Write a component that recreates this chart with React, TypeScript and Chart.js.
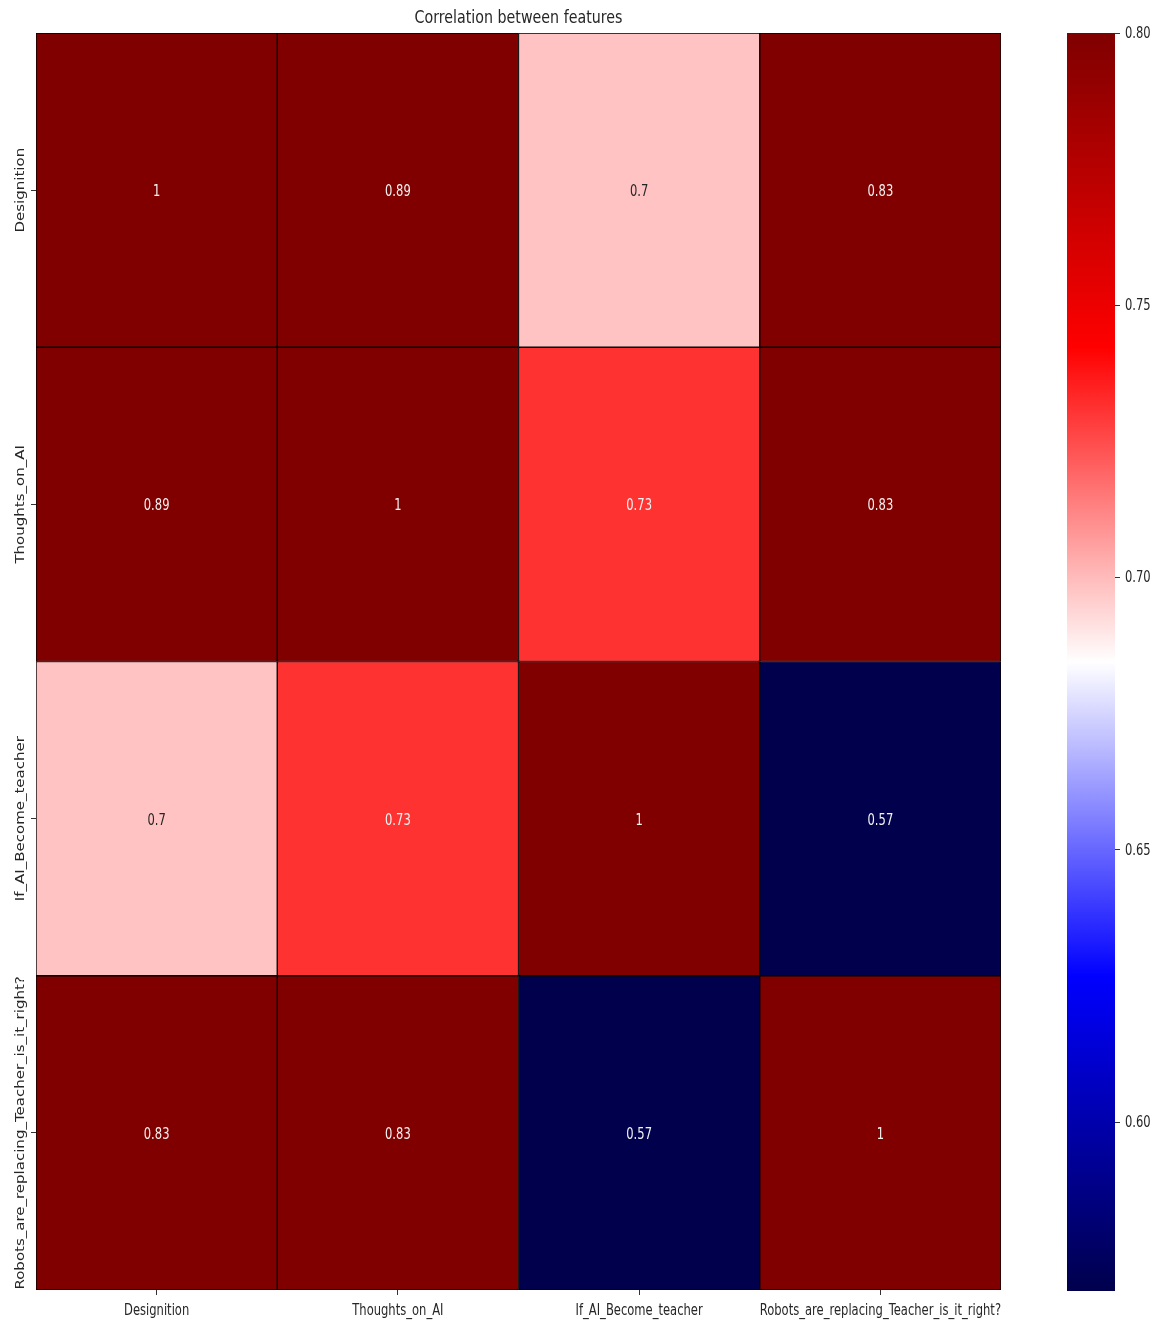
import React, { useEffect, useRef } from "react";
import { Chart, registerables } from "chart.js";

Chart.register(...registerables);

// ---------- data ----------
const featureLabels = [
  "Designition",
  "Thoughts_on_AI",
  "If_AI_Become_teacher",
  "Robots_are_replacing_Teacher_is_it_right?",
];
const designitionRow = [1, 0.89, 0.698, 0.83];
const thoughtsRow = [0.89, 1, 0.731, 0.83];
const ifAiRow = [0.698, 0.731, 1, 0.569];
const robotsRow = [0.83, 0.83, 0.569, 1];
const matrixRows = [designitionRow, thoughtsRow, ifAiRow, robotsRow];
const colorMax = 0.8;
const colorMin = Math.min(...matrixRows.flat());
const colorbarTicks = [0.6, 0.65, 0.7, 0.75, 0.8];
const titleText = "Correlation between features";

// ---------- helpers ----------
const seismicNodes = [
  [0, 0, 0.3],
  [0, 0, 1],
  [1, 1, 1],
  [1, 0, 0],
  [0.5, 0, 0],
];
function seismic(t: number): number[] {
  const c = Math.max(0, Math.min(1, t));
  const seg = Math.min(Math.floor(c * 4), 3);
  const f = c * 4 - seg;
  const a = seismicNodes[seg];
  const b = seismicNodes[seg + 1];
  return [0, 1, 2].map((k) => Math.round((a[k] + (b[k] - a[k]) * f) * 255));
}
function colorFor(v: number): string {
  const [r, g, b] = seismic((v - colorMin) / (colorMax - colorMin));
  return `rgb(${r},${g},${b})`;
}
function textColorFor(v: number): string {
  const rgb = seismic((v - colorMin) / (colorMax - colorMin)).map((c) => {
    const s = c / 255;
    return s <= 0.03928 ? s / 12.92 : Math.pow((s + 0.055) / 1.055, 2.4);
  });
  const lum = 0.2126 * rgb[0] + 0.7152 * rgb[1] + 0.0722 * rgb[2];
  return lum > 0.408 ? "#262626" : "#f2f2f2";
}
function fmt(v: number): string {
  return String(parseFloat(v.toPrecision(2)));
}
const SX = 0.77;
const FONT = '"DejaVu Sans", sans-serif';
function drawText(
  ctx: CanvasRenderingContext2D,
  text: string,
  x: number,
  y: number,
  size: number,
  color: string,
  align: CanvasTextAlign = "center",
  vertical = false
) {
  ctx.save();
  ctx.translate(x, y);
  if (vertical) {
    ctx.rotate(-Math.PI / 2);
    ctx.scale(1, SX);
  } else {
    ctx.scale(SX, 1);
  }
  ctx.font = `${size}px ${FONT}`;
  ctx.fillStyle = color;
  ctx.textAlign = align;
  ctx.textBaseline = "middle";
  ctx.fillText(text, 0, 0);
  ctx.restore();
}

const W = 1161;
const H = 1327;

export default function App() {
  const mainRef = useRef<HTMLCanvasElement>(null);
  const barRef = useRef<HTMLCanvasElement>(null);

  useEffect(() => {
    if (!mainRef.current || !barRef.current) return;

    const textPlugin = {
      id: "heatText",
      afterDraw(chart: any) {
        const ctx = chart.ctx as CanvasRenderingContext2D;
        const xs = chart.scales.x;
        const ys = chart.scales.y;
        const ca = chart.chartArea;
        matrixRows.forEach((row, r) => {
          row.forEach((v, c) => {
            drawText(
              ctx,
              fmt(v),
              xs.getPixelForValue(c),
              ys.getPixelForValue(r + 0.5) + 2,
              15,
              textColorFor(v)
            );
          });
        });
        featureLabels.forEach((lab, i) => {
          drawText(ctx, lab, xs.getPixelForValue(i), ca.bottom + 21, 15, "#262626");
          drawText(ctx, lab, ca.left - 15, ys.getPixelForValue(i + 0.5), 15, "#262626", "center", true);
        });
        drawText(ctx, titleText, (ca.left + ca.right) / 2, 18, 18.5, "#262626");
      },
    };

    const main = new Chart(mainRef.current, {
      type: "bar",
      data: {
        labels: featureLabels,
        datasets: matrixRows.map((row, r) => ({
          label: featureLabels[r],
          data: row.map(() => [r, r + 1]),
          backgroundColor: row.map(colorFor),
          borderColor: "#000000",
          borderWidth: 1,
          borderSkipped: false,
          barPercentage: 1,
          categoryPercentage: 1,
          grouped: false,
        })),
      } as any,
      options: {
        animation: false,
        responsive: false,
        devicePixelRatio: 1,
        layout: { padding: { top: 33, right: W - 1001, left: 0, bottom: 0 } },
        plugins: { legend: { display: false }, tooltip: { enabled: false }, title: { display: false } },
        scales: {
          x: {
            type: "category",
            offset: true,
            grid: { display: true, drawOnChartArea: false, offset: false, tickLength: 5, color: "#333333" },
            border: { display: false },
            ticks: { color: "rgba(0,0,0,0)", font: { size: 1 } },
            afterFit: (s: any) => {
              s.height = 37;
            },
          },
          y: {
            type: "linear",
            min: 0,
            max: 4,
            reverse: true,
            grid: { display: true, drawOnChartArea: false, tickLength: 5, color: "#333333" },
            border: { display: false },
            ticks: { color: "rgba(0,0,0,0)", font: { size: 1 } },
            afterBuildTicks: (s: any) => {
              s.ticks = featureLabels.map((_, i) => ({ value: i + 0.5 }));
            },
            afterFit: (s: any) => {
              s.width = 36;
            },
          },
        },
      } as any,
      plugins: [textPlugin],
    });

    const gradientPlugin = {
      id: "cbar",
      beforeDatasetsDraw(chart: any) {
        const ctx = chart.ctx as CanvasRenderingContext2D;
        const ys = chart.scales.y;
        const ca = chart.chartArea;
        const y0 = ys.getPixelForValue(colorMin);
        const y1 = ys.getPixelForValue(colorMax);
        const g = ctx.createLinearGradient(0, y0, 0, y1);
        for (let i = 0; i <= 40; i++) {
          const t = i / 40;
          const [r, gg, b] = seismic(t);
          g.addColorStop(t, `rgb(${r},${gg},${b})`);
        }
        ctx.save();
        ctx.fillStyle = g;
        ctx.fillRect(ca.left, y1, ca.right - ca.left, y0 - y1);
        ctx.restore();
      },
      afterDraw(chart: any) {
        const ctx = chart.ctx as CanvasRenderingContext2D;
        const ys = chart.scales.y;
        const ca = chart.chartArea;
        colorbarTicks.forEach((v) => {
          drawText(ctx, v.toFixed(2), ca.right + 10, ys.getPixelForValue(v) + 1, 15, "#262626", "left");
        });
      },
    };

    const cbar = new Chart(barRef.current, {
      type: "bar",
      data: { labels: [""], datasets: [{ data: [] }] },
      options: {
        animation: false,
        responsive: false,
        devicePixelRatio: 1,
        layout: { padding: { top: 33, left: 27, bottom: H - 1291, right: 0 } },
        plugins: { legend: { display: false }, tooltip: { enabled: false } },
        scales: {
          x: { display: false },
          y: {
            type: "linear",
            position: "right",
            min: colorMin,
            max: colorMax,
            grid: { display: true, drawOnChartArea: false, tickLength: 5, color: "#333333" },
            border: { display: false },
            ticks: { color: "rgba(0,0,0,0)", font: { size: 1 } },
            afterBuildTicks: (s: any) => {
              s.ticks = colorbarTicks.map((v) => ({ value: v }));
            },
            afterFit: (s: any) => {
              s.width = 46;
            },
          },
        },
      } as any,
      plugins: [gradientPlugin],
    });

    return () => {
      main.destroy();
      cbar.destroy();
    };
  }, []);

  return (
    <div style={{ position: "absolute", left: 0, top: 0, width: W, height: H, background: "#ffffff" }}>
      <canvas
        ref={mainRef}
        width={W}
        height={H}
        style={{ position: "absolute", left: 0, top: 0, width: W, height: H }}
      />
      <canvas
        ref={barRef}
        width={121}
        height={H}
        style={{ position: "absolute", left: 1040, top: 0, width: 121, height: H }}
      />
    </div>
  );
}
